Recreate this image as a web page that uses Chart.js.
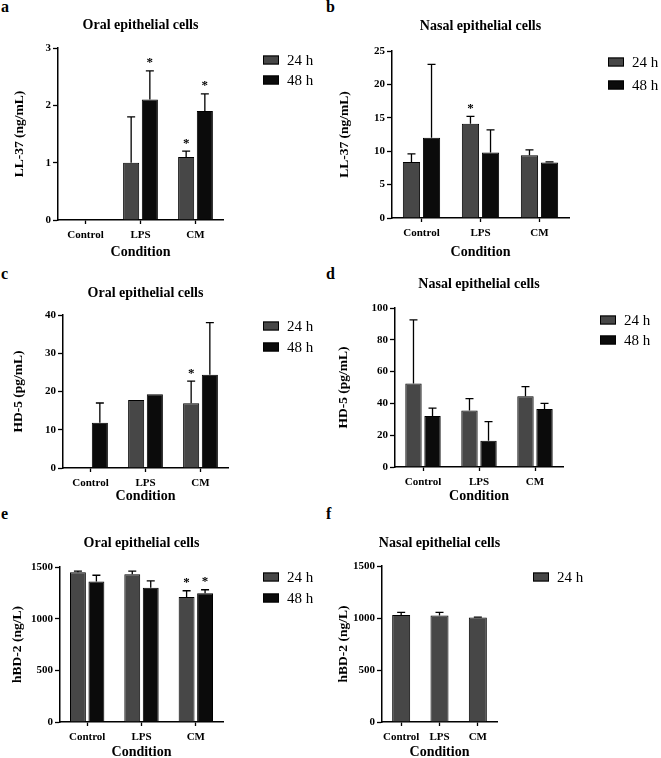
<!DOCTYPE html>
<html>
<head>
<meta charset="utf-8">
<script src="https://cdn.jsdelivr.net/npm/chart.js@4.4.1/dist/chart.umd.min.js"></script>
<style>
  body { margin: 0; background: #fff; width: 661px; height: 758px; position: relative; overflow: hidden; }
  .panel { position: absolute; }
  .tag { position: absolute; font: bold 16px "Liberation Serif", serif; color: #000; }
</style>
</head>
<body>
<div class="tag" style="left:1px;top:-2px">a</div>
<div class="tag" style="left:326px;top:-2px">b</div>
<div class="tag" style="left:1px;top:265px">c</div>
<div class="tag" style="left:326px;top:265px">d</div>
<div class="tag" style="left:1px;top:505px">e</div>
<div class="tag" style="left:326px;top:505px">f</div>

<canvas id="chartA" class="panel" width="330" height="260" style="left:0;top:0"></canvas>
<canvas id="chartB" class="panel" width="331" height="260" style="left:330px;top:0"></canvas>
<canvas id="chartC" class="panel" width="330" height="245" style="left:0;top:260px"></canvas>
<canvas id="chartD" class="panel" width="331" height="245" style="left:330px;top:260px"></canvas>
<canvas id="chartE" class="panel" width="330" height="253" style="left:0;top:505px"></canvas>
<canvas id="chartF" class="panel" width="331" height="253" style="left:330px;top:505px"></canvas>

<script>
// categories and series
const conditions = ['Control', 'LPS', 'CM'];
const timeLabels = ['24 h', '48 h'];

// a - LL-37, oral cells (mean, mean+SD, significance)
const oralLL37_24 = [0, 1.0, 1.1];
const oralLL37_48 = [0, 2.1, 1.9];
const oralLL37_24Err = [null, 1.8, 1.2];
const oralLL37_48Err = [null, 2.6, 2.2];
const oralLL37_24Star = [false, false, true];
const oralLL37_48Star = [false, true, true];
const oralLL37Ticks = [0, 1, 2, 3];

// b - LL-37, nasal cells
const nasalLL37_24 = [8.4, 14.1, 9.4];
const nasalLL37_48 = [12.0, 9.8, 8.3];
const nasalLL37_24Err = [9.6, 15.2, 10.2];
const nasalLL37_48Err = [23.0, 13.2, 8.4];
const nasalLL37_24Star = [false, true, false];
const nasalLL37_48Star = [false, false, false];
const nasalLL37Ticks = [0, 5, 10, 15, 20, 25];

// c - HD-5, oral cells
const oralHD5_24 = [0, 17.8, 16.9];
const oralHD5_48 = [11.8, 19.3, 24.4];
const oralHD5_24Err = [null, null, 22.7];
const oralHD5_48Err = [17.0, null, 38.0];
const oralHD5_24Star = [false, false, true];
const oralHD5_48Star = [false, false, false];
const oralHD5Ticks = [0, 10, 20, 30, 40];

// d - HD-5, nasal cells
const nasalHD5_24 = [52.5, 35.5, 44.5];
const nasalHD5_48 = [32.0, 16.5, 36.5];
const nasalHD5_24Err = [92.5, 43.0, 50.5];
const nasalHD5_48Err = [37.0, 28.5, 40.0];
const nasalHD5_24Star = [false, false, false];
const nasalHD5_48Star = [false, false, false];
const nasalHD5Ticks = [0, 20, 40, 60, 80, 100];

// e - hBD-2, oral cells
const oralHBD2_24 = [1450, 1430, 1210];
const oralHBD2_48 = [1360, 1300, 1245];
const oralHBD2_24Err = [1460, 1460, 1270];
const oralHBD2_48Err = [1420, 1365, 1280];
const oralHBD2_24Star = [false, false, true];
const oralHBD2_48Star = [false, false, true];
const oralHBD2Ticks = [0, 500, 1000, 1500];

// f - hBD-2, nasal cells (24 h only)
const nasalHBD2_24 = [1030, 1025, 1005];
const nasalHBD2_24Err = [1055, 1055, 1008];
const nasalHBD2_24Star = [false, false, false];
const nasalHBD2Ticks = [0, 500, 1000, 1500];

const FONT = '"Liberation Serif", "DejaVu Serif", serif';
const COL24 = '#474747';
const COL48 = '#0b0b0b';

// error bars, stars, legend and title
const extras = {
  id: 'extras',
  afterDatasetsDraw(chart, args, opts) {
    const ctx = chart.ctx;
    const y = chart.scales.y;
    const area = chart.chartArea;
    ctx.save();
    chart.data.datasets.forEach((ds, i) => {
      const meta = chart.getDatasetMeta(i);
      meta.data.forEach((bar, j) => {
        let top = bar.y;
        if (ds.err && ds.err[j] != null) {
          top = y.getPixelForValue(ds.err[j]);
          ctx.strokeStyle = '#000';
          ctx.lineWidth = 1.3;
          ctx.beginPath();
          ctx.moveTo(bar.x, bar.y);
          ctx.lineTo(bar.x, top);
          ctx.moveTo(bar.x - 4, top);
          ctx.lineTo(bar.x + 4, top);
          ctx.stroke();
        }
        if (ds.star && ds.star[j]) {
          ctx.fillStyle = '#000';
          ctx.font = 'bold 13px ' + FONT;
          ctx.textAlign = 'center';
          ctx.textBaseline = 'middle';
          ctx.fillText('*', bar.x, top - 8);
        }
      });
    });
    // legend
    const lg = opts.legend;
    chart.data.datasets.forEach((ds, i) => {
      const cy = lg.y + i * lg.gap;
      ctx.fillStyle = ds.backgroundColor;
      ctx.fillRect(lg.x, cy - 4.5, 16, 9);
      ctx.strokeStyle = '#000';
      ctx.lineWidth = 1;
      ctx.strokeRect(lg.x + 0.5, cy - 4, 15, 8);
      ctx.fillStyle = '#000';
      ctx.font = '15px ' + FONT;
      ctx.textAlign = 'left';
      ctx.textBaseline = 'middle';
      ctx.fillText(ds.label, lg.x + 24, cy + 1);
    });
    // title
    ctx.font = 'bold 14px ' + FONT;
    ctx.textAlign = 'center';
    ctx.textBaseline = 'middle';
    ctx.fillStyle = '#000';
    ctx.fillText(opts.title, (area.left + area.right) / 2, opts.titleY);
    ctx.restore();
  }
};

function makePanel(id, p) {
  const canvas = document.getElementById(id);
  const W = canvas.width, H = canvas.height;
  return new Chart(canvas.getContext('2d'), {
    type: 'bar',
    data: { labels: conditions, datasets: p.datasets },
    plugins: [extras],
    options: {
      responsive: false,
      animation: false,
      layout: { padding: { left: 0, top: p.area.top, right: W - p.area.right, bottom: 0 } },
      datasets: { bar: { categoryPercentage: p.catPct, barPercentage: p.barPct, borderColor: '#000', borderWidth: 1 } },
      plugins: {
        legend: { display: false },
        tooltip: { enabled: false },
        extras: { title: p.title, titleY: p.titleY, legend: p.legend }
      },
      scales: {
        x: {
          afterFit: s => { s.height = H - p.area.bottom; },
          grid: { display: true, drawOnChartArea: false, offset: false, tickLength: 4, color: '#000', tickWidth: 1.3 },
          border: { color: '#000', width: 1.5 },
          ticks: { color: '#000', font: { family: FONT, weight: 'bold', size: 11 }, padding: 5, autoSkip: false, maxRotation: 0 },
          title: { display: true, text: 'Condition', color: '#000', font: { family: FONT, weight: 'bold', size: 14 }, padding: { top: 0, bottom: p.xTitlePad } }
        },
        y: {
          afterFit: s => { s.width = p.area.left; },
          min: p.ticks[0],
          max: p.ticks[p.ticks.length - 1],
          afterBuildTicks: s => { s.ticks = p.ticks.map(v => ({ value: v })); },
          grid: { display: true, drawOnChartArea: false, tickLength: 5, color: '#000', tickWidth: 1.3 },
          border: { color: '#000', width: 1.5 },
          ticks: { color: '#000', font: { family: FONT, weight: 'bold', size: 11 }, padding: 2, callback: v => String(v) },
          title: { display: true, text: p.yTitle, color: '#000', font: { family: FONT, weight: 'bold', size: 13.5 }, padding: { top: p.yTitlePad, bottom: 0 } }
        }
      }
    }
  });
}

function pair(v24, e24, s24, v48, e48, s48) {
  return [
    { label: timeLabels[0], data: v24, err: e24, star: s24, backgroundColor: COL24 },
    { label: timeLabels[1], data: v48, err: e48, star: s48, backgroundColor: COL48 }
  ];
}

makePanel('chartA', {
  datasets: pair(oralLL37_24, oralLL37_24Err, oralLL37_24Star, oralLL37_48, oralLL37_48Err, oralLL37_48Star),
  ticks: oralLL37Ticks, yTitle: 'LL-37 (ng/mL)', title: 'Oral epithelial cells',
  area: { left: 58, right: 223, top: 48, bottom: 220 }, titleY: 25,
  legend: { x: 263, y: 60, gap: 20 }, catPct: 0.68, barPct: 0.86, xTitlePad: -1, yTitlePad: 11.5
});
makePanel('chartB', {
  datasets: pair(nasalLL37_24, nasalLL37_24Err, nasalLL37_24Star, nasalLL37_48, nasalLL37_48Err, nasalLL37_48Star),
  ticks: nasalLL37Ticks, yTitle: 'LL-37 (ng/mL)', title: 'Nasal epithelial cells',
  area: { left: 62, right: 239, top: 51, bottom: 218 }, titleY: 26,
  legend: { x: 278, y: 62, gap: 23 }, catPct: 0.68, barPct: 0.86, xTitlePad: -1, yTitlePad: 6.5
});
makePanel('chartC', {
  datasets: pair(oralHD5_24, oralHD5_24Err, oralHD5_24Star, oralHD5_48, oralHD5_48Err, oralHD5_48Star),
  ticks: oralHD5Ticks, yTitle: 'HD-5 (pg/mL)', title: 'Oral epithelial cells',
  area: { left: 63, right: 228, top: 55, bottom: 208 }, titleY: 33,
  legend: { x: 263, y: 66, gap: 21 }, catPct: 0.68, barPct: 0.86, xTitlePad: 0, yTitlePad: 10.5
});
makePanel('chartD', {
  datasets: pair(nasalHD5_24, nasalHD5_24Err, nasalHD5_24Star, nasalHD5_48, nasalHD5_48Err, nasalHD5_48Star),
  ticks: nasalHD5Ticks, yTitle: 'HD-5 (pg/mL)', title: 'Nasal epithelial cells',
  area: { left: 65, right: 233, top: 48, bottom: 207 }, titleY: 24,
  legend: { x: 270, y: 60, gap: 20 }, catPct: 0.68, barPct: 0.86, xTitlePad: 0, yTitlePad: 5.5
});
makePanel('chartE', {
  datasets: pair(oralHBD2_24, oralHBD2_24Err, oralHBD2_24Star, oralHBD2_48, oralHBD2_48Err, oralHBD2_48Star),
  ticks: oralHBD2Ticks, yTitle: 'hBD-2 (ng/L)', title: 'Oral epithelial cells',
  area: { left: 60, right: 223, top: 62, bottom: 217 }, titleY: 38,
  legend: { x: 263, y: 72, gap: 21 }, catPct: 0.68, barPct: 0.86, xTitlePad: -2.5, yTitlePad: 9.5
});
makePanel('chartF', {
  datasets: [{ label: timeLabels[0], data: nasalHBD2_24, err: nasalHBD2_24Err, star: nasalHBD2_24Star, backgroundColor: COL24 }],
  ticks: nasalHBD2Ticks, yTitle: 'hBD-2 (ng/L)', title: 'Nasal epithelial cells',
  area: { left: 52, right: 167, top: 61, bottom: 217 }, titleY: 38,
  legend: { x: 203, y: 72, gap: 21 }, catPct: 0.5, barPct: 0.94, xTitlePad: -2.5, yTitlePad: 5.5
});
</script>
</body>
</html>
